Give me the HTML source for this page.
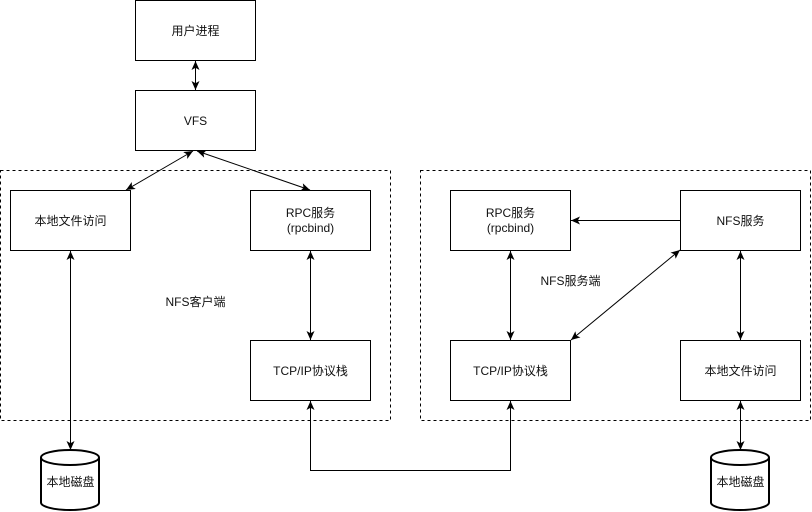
<!DOCTYPE html>
<html>
<head>
<meta charset="utf-8">
<style>
  html,body{margin:0;padding:0;background:#fff;}
  svg{display:block;}
  text{font-family:"Liberation Sans","Noto Sans CJK SC",sans-serif;font-size:12px;fill:#111;}
</style>
</head>
<body>
<svg width="812" height="512" viewBox="0 0 812 512" xmlns="http://www.w3.org/2000/svg">
  <defs>
    <marker id="a" markerUnits="userSpaceOnUse" markerWidth="9" markerHeight="8" viewBox="0 0 9 8" refX="9" refY="4" orient="auto-start-reverse">
      <path d="M9,4 L0,0 L2.2,4 L0,8 Z" fill="#000"/>
    </marker>
  </defs>

  <!-- containers -->
  <rect x="0.5" y="170.5" width="390" height="250" fill="none" stroke="#000" stroke-dasharray="3 3"/>
  <rect x="420.5" y="170.5" width="390" height="250" fill="none" stroke="#000" stroke-dasharray="3 3"/>

  <!-- boxes -->
  <rect x="135.5" y="0.5" width="120" height="60" fill="#fff" stroke="#000"/>
  <rect x="135.5" y="90.5" width="120" height="60" fill="#fff" stroke="#000"/>
  <rect x="10.5" y="190.5" width="120" height="60" fill="#fff" stroke="#000"/>
  <rect x="250.5" y="190.5" width="120" height="60" fill="#fff" stroke="#000"/>
  <rect x="250.5" y="340.5" width="120" height="60" fill="#fff" stroke="#000"/>
  <rect x="450.5" y="190.5" width="120" height="60" fill="#fff" stroke="#000"/>
  <rect x="680.5" y="190.5" width="120" height="60" fill="#fff" stroke="#000"/>
  <rect x="450.5" y="340.5" width="120" height="60" fill="#fff" stroke="#000"/>
  <rect x="680.5" y="340.5" width="120" height="60" fill="#fff" stroke="#000"/>

  <!-- disks -->
  <g fill="#fff" stroke="#000" stroke-width="2">
    <path d="M41,457.5 A29,7.5 0 0 1 99,457.5 L99,502.5 A29,7.5 0 0 1 41,502.5 Z"/>
    <path d="M41,457.5 A29,7.5 0 0 0 99,457.5" fill="none"/>
    <path d="M711,457.5 A29,7.5 0 0 1 769,457.5 L769,502.5 A29,7.5 0 0 1 711,502.5 Z"/>
    <path d="M711,457.5 A29,7.5 0 0 0 769,457.5" fill="none"/>
  </g>

  <!-- connectors -->
  <g stroke="#000" stroke-width="1" fill="none">
    <line x1="195.5" y1="61" x2="195.5" y2="90" marker-start="url(#a)" marker-end="url(#a)"/>
    <line x1="193" y1="151" x2="126" y2="190" marker-start="url(#a)" marker-end="url(#a)"/>
    <line x1="197" y1="151" x2="310" y2="190" marker-start="url(#a)" marker-end="url(#a)"/>
    <line x1="70.5" y1="251" x2="70.5" y2="450" marker-start="url(#a)" marker-end="url(#a)"/>
    <line x1="310.5" y1="251" x2="310.5" y2="340" marker-start="url(#a)" marker-end="url(#a)"/>
    <polyline points="310.5,401 310.5,470.5 510.5,470.5 510.5,401" marker-start="url(#a)" marker-end="url(#a)"/>
    <line x1="510.5" y1="251" x2="510.5" y2="340" marker-start="url(#a)" marker-end="url(#a)"/>
    <line x1="680" y1="220.5" x2="571" y2="220.5" marker-end="url(#a)"/>
    <line x1="680" y1="250" x2="571" y2="340" marker-start="url(#a)" marker-end="url(#a)"/>
    <line x1="740.5" y1="251" x2="740.5" y2="340" marker-start="url(#a)" marker-end="url(#a)"/>
    <line x1="740.5" y1="401" x2="740.5" y2="450" marker-start="url(#a)" marker-end="url(#a)"/>
  </g>

  <!-- labels -->
  <g text-anchor="middle">
    <text x="195.5" y="35">用户进程</text>
    <text x="195.5" y="125">VFS</text>
    <text x="70.5" y="225">本地文件访问</text>
    <text x="310.5" y="217">RPC服务</text>
    <text x="310.5" y="232">(rpcbind)</text>
    <text x="310.5" y="375">TCP/IP协议栈</text>
    <text x="195.5" y="306">NFS客户端</text>
    <text x="510.5" y="217">RPC服务</text>
    <text x="510.5" y="232">(rpcbind)</text>
    <text x="740.5" y="225">NFS服务</text>
    <text x="510.5" y="375">TCP/IP协议栈</text>
    <text x="740.5" y="375">本地文件访问</text>
    <text x="570.5" y="285">NFS服务端</text>
    <text x="70.5" y="486">本地磁盘</text>
    <text x="740.5" y="486">本地磁盘</text>
  </g>
</svg>
</body>
</html>
